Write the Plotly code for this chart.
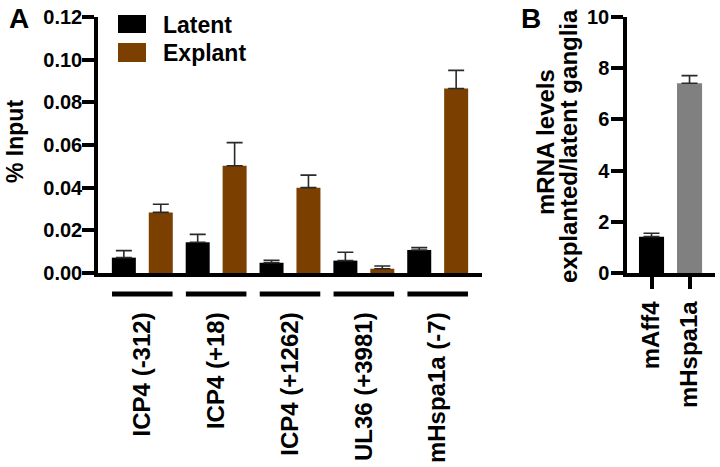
import plotly.graph_objects as go

# ---- Data: panel A (ChIP, % input) ----
groups = ["ICP4 (-312)", "ICP4 (+18)", "ICP4 (+1262)", "UL36 (+3981)", "mHspa1a (-7)"]
latent = [0.0072, 0.0144, 0.0048, 0.0058, 0.0108]
latent_err_top = [0.0105, 0.0181, 0.0059, 0.0097, 0.0119]
explant = [0.0284, 0.0503, 0.0400, 0.0020, 0.0865]
explant_err_top = [0.0322, 0.0611, 0.0459, 0.0033, 0.0950]
y_ticks_a = [0.00, 0.02, 0.04, 0.06, 0.08, 0.10, 0.12]

# ---- Data: panel B (mRNA ratio) ----
genes_b = ["mAff4", "mHspa1a"]
ratio_b = [1.42, 7.41]
ratio_err_top = [1.55, 7.71]
y_ticks_b = [0, 2, 4, 6, 8, 10]

BROWN = "#7B3F00"
GRAY = "#808080"
ERR = "#2a2a2a"
W, H = 720, 467
FONT = "Liberation Sans, Arial, sans-serif"


def f(size):
    return dict(family=FONT, size=size, color="black", weight="bold")


def b(s):
    return "<b>" + s + "</b>"


def px_x(p):
    return p / W


def px_y(p):
    return 1 - p / H


xa = list(range(len(groups)))

fig = go.Figure()
fig.add_trace(go.Bar(
    x=xa, y=latent, name="Latent", marker=dict(color="black", line=dict(width=0)),
    error_y=dict(type="data", symmetric=False,
                 array=[t - v for t, v in zip(latent_err_top, latent)],
                 arrayminus=[0] * len(latent), color=ERR, thickness=1.6, width=8),
    xaxis="x", yaxis="y", showlegend=False))
fig.add_trace(go.Bar(
    x=xa, y=explant, name="Explant", marker=dict(color=BROWN, line=dict(width=0)),
    error_y=dict(type="data", symmetric=False,
                 array=[t - v for t, v in zip(explant_err_top, explant)],
                 arrayminus=[0] * len(explant), color=ERR, thickness=1.6, width=8),
    xaxis="x", yaxis="y", showlegend=False))

xb = list(range(len(genes_b)))
fig.add_trace(go.Bar(
    x=xb, y=ratio_b, width=0.66, marker=dict(color=["black", GRAY], line=dict(width=0)),
    error_y=dict(type="data", symmetric=False,
                 array=[t - v for t, v in zip(ratio_err_top, ratio_b)],
                 arrayminus=[0] * len(ratio_b), color=ERR, thickness=1.6, width=8),
    xaxis="x2", yaxis="y2", showlegend=False))

ydom = [px_y(273), px_y(17)]

axis_common = dict(showline=True, linecolor="black", linewidth=3.5, showgrid=False,
                   zeroline=False, mirror=False, automargin=False)

fig.update_layout(
    width=W, height=H,
    margin=dict(l=0, r=0, t=0, b=0),
    paper_bgcolor="white", plot_bgcolor="white",
    font=f(20),
    barmode="group", bargap=0.0, bargroupgap=0.35,
    xaxis=dict(domain=[px_x(98), px_x(482)], range=[-0.6, 4.6],
               tickvals=xa, ticktext=[b(g) for g in groups], tickangle=-90, ticks="",
               tickfont=f(24), ticklabelstandoff=26, **axis_common),
    yaxis=dict(domain=ydom, range=[0, 0.12], tickvals=y_ticks_a,
               ticktext=[b(f"{v:.2f}") for v in y_ticks_a],
               ticks="outside", ticklen=12, tickwidth=3.5, tickcolor="black",
               tickfont=f(20), ticklabelstandoff=-4, **axis_common),
    xaxis2=dict(domain=[px_x(627), px_x(715)], range=[-0.645, 1.67], anchor="y2",
                tickvals=xb, ticktext=[b(g) for g in genes_b], tickangle=-90,
                ticks="outside", ticklen=12, tickwidth=3.5, tickcolor="black",
                tickfont=f(24), ticklabelstandoff=3, **axis_common),
    yaxis2=dict(domain=ydom, range=[0, 10], tickvals=y_ticks_b,
                ticktext=[b(str(v)) for v in y_ticks_b], anchor="x2",
                ticks="outside", ticklen=12, tickwidth=3.5, tickcolor="black",
                tickfont=f(20), ticklabelstandoff=-2, **axis_common),
)

# group underlines beneath panel A categories
shapes = []
for i in xa:
    shapes.append(dict(type="line", xref="x", yref="paper", x0=i - 0.41, x1=i + 0.41,
                       y0=px_y(294), y1=px_y(294), line=dict(color="black", width=5)))
# legend swatches
shapes.append(dict(type="rect", xref="paper", yref="paper", x0=px_x(118), x1=px_x(146),
                   y0=px_y(33), y1=px_y(15), fillcolor="black", line=dict(width=0)))
shapes.append(dict(type="rect", xref="paper", yref="paper", x0=px_x(118), x1=px_x(146),
                   y0=px_y(62), y1=px_y(43), fillcolor=BROWN, line=dict(width=0)))
fig.update_layout(shapes=shapes)

ann = [
    dict(text="Latent", x=px_x(161), y=px_y(25), xanchor="left", yanchor="middle",
         font=f(23)),
    dict(text="Explant", x=px_x(161), y=px_y(53), xanchor="left", yanchor="middle",
         font=f(23)),
    dict(text="% Input", x=px_x(15), y=px_y(142), textangle=-90, xanchor="center",
         yanchor="middle", font=f(23)),
    dict(text="mRNA levels", x=px_x(545), y=px_y(142), textangle=-90, xanchor="center",
         yanchor="middle", font=f(24)),
    dict(text="explanted/latent ganglia", x=px_x(569), y=px_y(146), textangle=-90,
         xanchor="center", yanchor="middle", font=f(24)),
    dict(text="A", x=px_x(19), y=px_y(19), xanchor="center", yanchor="middle",
         font=f(28)),
    dict(text="B", x=px_x(531), y=px_y(19), xanchor="center", yanchor="middle",
         font=f(28)),
]
for a in ann:
    a.update(text=b(a["text"]), xref="paper", yref="paper", showarrow=False)
fig.update_layout(annotations=ann)

fig.write_html("out.html", config={"displayModeBar": False},
               post_script="document.body.style.margin='0';document.body.style.overflow='hidden';")
